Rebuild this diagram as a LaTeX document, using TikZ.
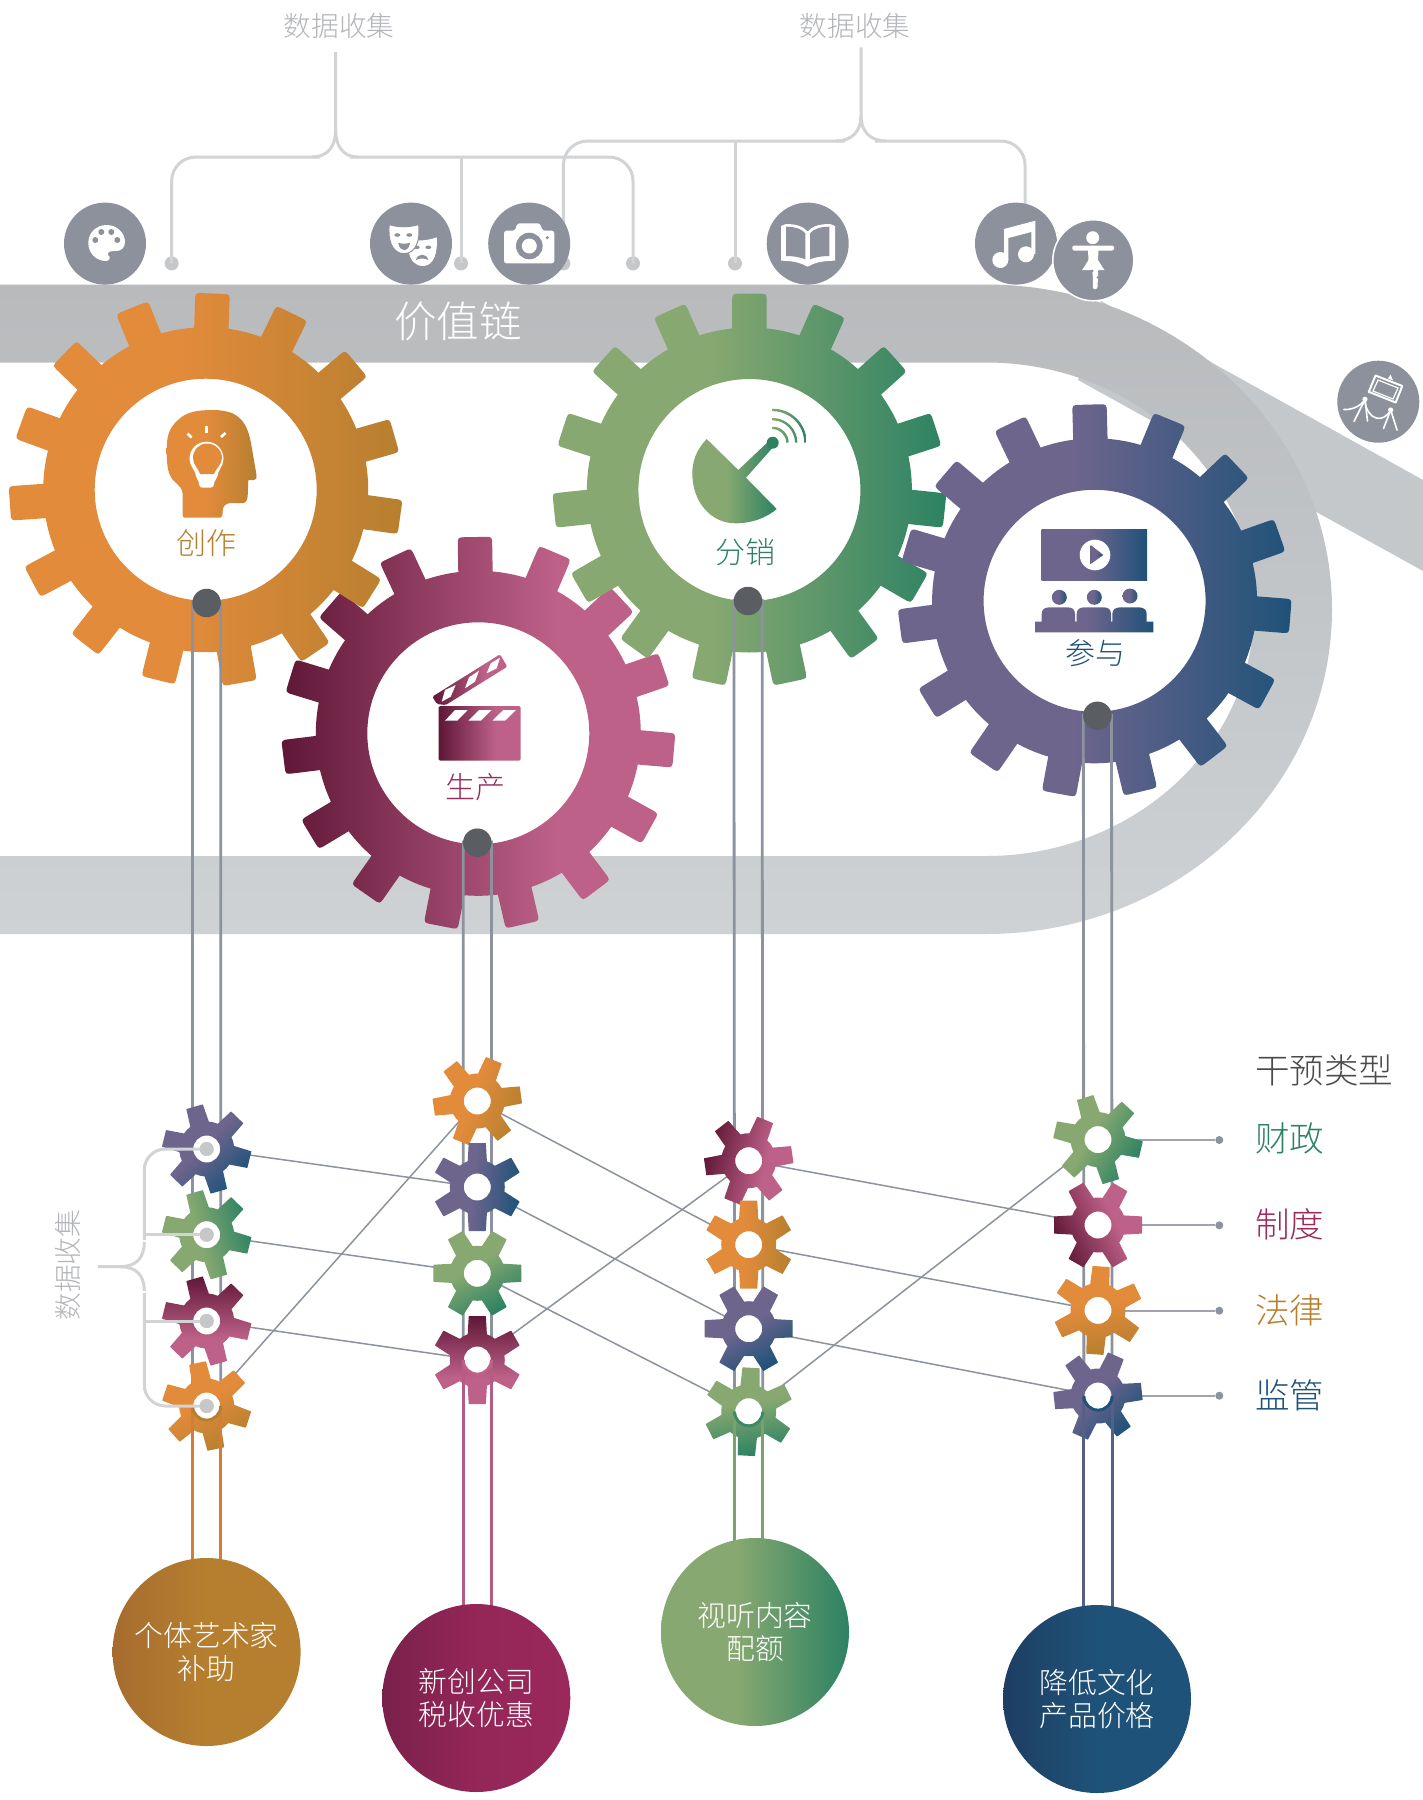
\documentclass[tikz,border=0pt]{standalone}
\usepackage{fontspec}
\setmainfont{Noto Sans CJK SC Light}
\usetikzlibrary{calc}
\definecolor{oA}{HTML}{E18B3B}\definecolor{oB}{HTML}{B67F2F}
\definecolor{mA}{HTML}{5F1736}\definecolor{mB}{HTML}{BE6188}
\definecolor{gA}{HTML}{87A870}\definecolor{gB}{HTML}{2C8263}
\definecolor{pA}{HTML}{6E658D}\definecolor{pB}{HTML}{1F5279}
\definecolor{iconc}{HTML}{8C919C}
\definecolor{railc}{HTML}{8D939E}
\definecolor{brkc}{HTML}{D1D3D5}
\definecolor{dotc}{HTML}{C6C7C9}
\definecolor{hubc}{HTML}{5A5E62}
\definecolor{txtg}{HTML}{B3B5B9}
\pgfdeclarehorizontalshading{orangeG}{100bp}{color(0bp)=(oA); color(25bp)=(oA); color(47bp)=(oA); color(75bp)=(oB); color(100bp)=(oB)}
\pgfdeclarehorizontalshading{magentaG}{100bp}{color(0bp)=(mA); color(25bp)=(mA); color(60bp)=(mB); color(75bp)=(mB); color(100bp)=(mB)}
\pgfdeclarehorizontalshading{greenG}{100bp}{color(0bp)=(gA); color(25bp)=(gA); color(45bp)=(gA); color(75bp)=(gB); color(100bp)=(gB)}
\pgfdeclarehorizontalshading{purpleG}{100bp}{color(0bp)=(pA); color(25bp)=(pA); color(47bp)=(pA); color(75bp)=(pB); color(100bp)=(pB)}
\newcommand{\lpt}[4]{\pgfmathsetmacro\tmpx{\gcx+(#1)*cos(#3)-(#2)*sin(#3)}\pgfmathsetmacro\tmpy{\gcy-((#1)*sin(#3)+(#2)*cos(#3))}\edef#4{(\tmpx,\tmpy)}}
% cx cy rb rt wb wt c n base
\newcommand{\mkgear}[9]{%
  \gdef\gp{}%
  \def\gcx{#1}\def\gcy{#2}%
  \foreach \k in {1,...,#8}{%
    \pgfmathsetmacro\ga{#9+(\k-1)*360/#8}%
    \pgfmathsetmacro\gd{asin(#5/#3)}%
    \pgfmathsetmacro\gro{#3*cos(\gd)}%
    \pgfmathsetmacro\gae{-(\ga+\gd)}%
    \pgfmathsetmacro\gan{-(\ga+360/#8-\gd)}%
    \lpt{\gro}{-#5}{\ga}{\qa}%
    \lpt{#4-#7}{-#6}{\ga}{\qb}%
    \lpt{#4}{-#6}{\ga}{\qc}%
    \lpt{#4}{-#6+#7}{\ga}{\qd}%
    \lpt{#4}{#6-#7}{\ga}{\qe}%
    \lpt{#4}{#6}{\ga}{\qf}%
    \lpt{#4-#7}{#6}{\ga}{\qg}%
    \lpt{\gro}{#5}{\ga}{\qh}%
    \xdef\gp{\gp \ifnum\k=1 \qa\fi -- \qb .. controls \qc .. \qd -- \qe .. controls \qf .. \qg -- \qh arc[start angle=\gae,end angle=\gan,radius=#3]}%
  }%
  \xdef\gp{\gp -- cycle}%
}
\newcommand{\biggear}[5]{% name cx cy base shade
  \coordinate (#1) at (#2,#3);
  \fill[white] (#1) circle[radius=111];
  \mkgear{#2}{#3}{162.5}{196.3}{17.2}{17.2}{8}{15}{#4}
  \shade[shading=#5,even odd rule] \gp (#2,#3) circle[radius=111];
}
\newcommand{\smallgear}[6]{% name cx cy base shade angle
  \coordinate (#1) at (#2,#3);
  \fill[white] (#1) circle[radius=14];
  \mkgear{#2}{#3}{27.5}{44}{9.6}{8.6}{0.5}{6}{#4}
  \shade[shading=#5,shading angle=#6,even odd rule] \gp (#2,#3) circle[radius=13.5];
}
\newcommand{\grayrail}[2]{\draw[rail] ($(#2)+(-14.1,0)$) -- ($(#1)+(-14.1,-2)$) arc[start angle=180,end angle=0,radius=14.1] -- ($(#2)+(14.1,0)$);}
\newcommand{\colrail}[4]{% gear length straightcolor archcolor
  \draw[rail,line width=3pt,draw=#3] ($(#1)+(-14.1,0)$) -- ++(0,#2);
  \draw[rail,line width=3pt,draw=#3] ($(#1)+(14.1,0)$) -- ++(0,#2);
  \draw[rail,line width=3pt,draw=#4] ($(#1)+(-14.1,3)$) -- ($(#1)+(-14.1,0)$) arc[start angle=180,end angle=0,radius=14.1] -- ($(#1)+(14.1,3)$);
}
\tikzset{
  iconcirc/.style={circle,fill=iconc,minimum size=82pt,inner sep=0pt},
  rail/.style={draw=railc,line width=2.8pt},
  conn/.style={draw=railc,line width=1.5pt},
  brk/.style={draw=brkc,line width=3pt},
  dotn/.style={circle,fill=dotc,minimum size=14pt,inner sep=0pt},
  smalldot/.style={circle,fill=railc,minimum size=8pt,inner sep=0pt},
  hubn/.style={circle,fill=hubc,minimum size=28.5pt,inner sep=0pt},
  bigcirc/.style={circle,minimum size=188pt,inner sep=0pt,align=center,text=white,font=\fontsize{28.8}{33.6}\selectfont},
  lab/.style={inner sep=0pt,font=\fontsize{30}{31}\selectfont},
  leg/.style={inner sep=0pt,anchor=west,font=\fontsize{34.5}{36}\selectfont},
  grayt/.style={inner sep=0pt,text=txtg,font=\fontsize{27.7}{29}\selectfont},
}
\begin{document}
\begin{tikzpicture}[x=1pt,y=-1pt]
\useasboundingbox (0,0) rectangle (1423,1800);
\fill[white] (0,0) rectangle (1423,1800);
% branch and value chain band
\fill[color={rgb,255:red,197;green,200;blue,202}] (1101,301) -- (1423,480) -- (1423,571) -- (1078,380) -- cycle;
\shade[top color={rgb,255:red,184;green,186;blue,188},bottom color={rgb,255:red,206;green,210;blue,213}]
  (0,284.5) -- (986,284.5) arc[x radius=346,y radius=324.75,start angle=-90,end angle=90]
  -- (0,934) -- (0,856) -- (986,856) arc[x radius=268,y radius=246.75,start angle=90,end angle=-90]
  -- (0,362.5) -- cycle;
\node[inner sep=0pt,text=white,font=\fontsize{42.5}{44}\selectfont] (chain) at (458,321) {价值链};
% top brackets
\node[dotn] (d1) at (171.7,263.4) {};
\node[dotn] (d2) at (461,263.4) {};
\node[dotn] (d3) at (633,263.4) {};
\node[dotn] (d4) at (563.4,263.4) {};
\node[dotn] (d5) at (735,263.4) {};
\coordinate (b1j) at (335.6,157);
\coordinate (b1t) at (335.6,52);
\coordinate (b2j) at (861,141);
\coordinate (b2t) at (861,47.4);
\coordinate (mus) at (1025,210);
\draw[brk,rounded corners=24] (d1.center) |- (320,157);
\draw[brk,rounded corners=24] (d3.center) |- (350,157);
\draw[brk] (b1t) -- (335.6,130) .. controls (335.6,146) and (328,157) .. (312,157);
\draw[brk] (335.6,130) .. controls (335.6,146) and (343,157) .. (358,157);
\draw[brk] (d2.center) -- (d2 |- b1j);
\draw[brk,rounded corners=24] (d4.center) |- (845,141);
\draw[brk,rounded corners=24] (mus) |- (875,141);
\draw[brk] (b2t) -- (861,116) .. controls (861,131) and (852,141) .. (836,141);
\draw[brk] (861,116) .. controls (861,131) and (870,141) .. (886,141);
\draw[brk] (d5.center) -- (d5 |- b2j);
\node[grayt] (t1) at (339,26) {数据收集};
\node[grayt] (t2) at (855,26) {数据收集};
% top icon circles
\node[iconcirc] (palette) at (105,243.6) {};
\node[iconcirc] (masks) at (411,243.6) {};
\node[iconcirc] (camera) at (529.2,243.6) {};
\node[iconcirc] (book) at (807.7,243.6) {};
\node[iconcirc] (music) at (1016,243.6) {};
\node[circle,fill=iconc,draw=white,line width=1.5pt,minimum size=81pt,inner sep=0pt] (dancer) at (1093.3,260.3) {};
\node[iconcirc] (paint) at (1378.3,401.7) {};
% palette
\fill[white] (106.7,225) .. controls (117,225) and (125,233) .. (125,242) .. controls (125,248) and (121,251) .. (116,251) .. controls (112,251) and (107,251) .. (108,255) .. controls (111,257) and (110,261) .. (106,261) .. controls (96,261) and (88.3,253) .. (88.3,243) .. controls (88.3,233) and (96,225) .. (106.7,225) -- cycle;
\foreach \p in {(101.3,232),(111.3,232),(95.3,240),(117.3,240)} \fill[iconc] \p circle[radius=3];
% masks
\fill[white] (418,240.5) .. controls (425,240.5) and (431,239.5) .. (436.7,237.3) .. controls (438,252) and (434,266) .. (423,266) .. controls (415,266) and (410,260) .. (409,252) -- cycle;
\fill[iconc] (416.7,247.3) ellipse[x radius=3,y radius=1.8];
\fill[iconc] (428.3,247.3) ellipse[x radius=3,y radius=1.8];
\fill[iconc] (416,260) .. controls (417,253) and (427,253) .. (428.3,260) .. controls (424,258) and (420,258) .. (416,260) -- cycle;
\filldraw[fill=white,draw=iconc,line width=1pt] (389.3,224.6) .. controls (399,227.5) and (408,227.5) .. (418.6,224.6) .. controls (420.5,240) and (416,253.6) .. (404,253.6) .. controls (392,253.6) and (387.5,240) .. (389.3,224.6) -- cycle;
\fill[iconc] (397.3,235) ellipse[x radius=3,y radius=1.8];
\fill[iconc] (409.3,235) ellipse[x radius=3,y radius=1.8];
\fill[iconc] (398.3,242.7) .. controls (401,244) and (407,244) .. (410,242.7) .. controls (409.5,248) and (406.5,250) .. (404,250) .. controls (401.5,250) and (399,248) .. (398.3,242.7) -- cycle;
% camera
\fill[white,rounded corners=2.5] (504,230.7) -- (515,230.7) -- (517.3,223.3) -- (540,223.3) -- (542.5,230.7) -- (554.3,230.7) -- (554.3,263.3) -- (504,263.3) -- cycle;
\fill[iconc] (529.3,246) circle[radius=13.3];
\fill[white] (529.3,246) circle[radius=7.5];
\fill[iconc] (547.3,237.7) circle[radius=1.7];
% book
\fill[white] (781,226) -- (786,224) .. controls (795,224) and (803,226) .. (807.7,231.5) .. controls (812,226) and (820,224) .. (830,224) -- (835,226) -- (835,260.7) .. controls (826,260.7) and (818,262) .. (813,264) -- (807.7,266.7) -- (802,264) .. controls (797,262) and (790,260.7) .. (781,260.7) -- cycle;
\fill[iconc] (786,226.7) .. controls (795,226.7) and (802,229) .. (805.3,233.3) -- (805.3,259.3) .. controls (800,257) and (793,256) .. (786,256) -- cycle;
\fill[iconc] (829.4,226.7) .. controls (820.4,226.7) and (813.4,229) .. (810.1,233.3) -- (810.1,259.3) .. controls (815.4,257) and (822.4,256) .. (829.4,256) -- cycle;
% music
\fill[white] (1004,260) -- (1004,229) -- (1035.3,220.7) -- (1035.3,254) -- (1031.3,254) -- (1031.3,232) -- (1008.3,238) -- (1008.3,260) -- cycle;
\fill[white] (1000.3,260) circle[radius=8];
\fill[white] (1026,254.3) circle[radius=8];
% dancer
\fill[white] (1092.7,237.7) circle[radius=6.5];
\fill[white,rounded corners=2] (1072.3,245.5) rectangle (1114,250.5);
\fill[white] (1088,250) -- (1098.5,250) -- (1098,260) -- (1103,268) -- (1104.5,270) -- (1098,270) -- (1098,276) -- (1097.5,287) .. controls (1097,290) and (1093,290) .. (1092.8,287) -- (1092.8,276) -- (1092,270) -- (1082,270) -- (1083.5,268) -- (1088.5,260) -- cycle;
\fill[iconc] (1092,271) circle[radius=1.6];
\fill[iconc] (1097.5,277.5) circle[radius=1.2];
% painting
\draw[white,line width=2pt,line join=round] (1375.5,375.5) -- (1402.3,386) -- (1395.7,402.5) -- (1368.8,391.8) -- cycle;
\draw[white,line width=1.2pt] (1378,380) -- (1398,388) -- (1393,399) -- (1373,391) -- cycle;
\fill[white] (1388,378.5) -- (1390.5,374.5) -- (1393,380.5) -- cycle;
\draw[white,line width=1.6pt,line cap=round] (1344,409.5) .. controls (1352,410) and (1361,406) .. (1365,399.5);
\draw[white,line width=1.6pt,line cap=round] (1365,399.5) -- (1354,421.5);
\draw[white,line width=1.6pt,line cap=round] (1365,399.5) -- (1367.5,421);
\draw[white,line width=1.6pt,line cap=round] (1365,402) .. controls (1368,420) and (1383,424) .. (1390.7,410);
\draw[white,line width=1.6pt,line cap=round] (1390.7,410) -- (1383.5,428.5);
\draw[white,line width=1.6pt,line cap=round] (1390.7,410) -- (1397,430);
\fill[white] (1365,399.3) circle[radius=2.6];
\fill[white] (1390.7,410) circle[radius=2.6];
% big gears
\biggear{gm}{478.3}{733.3}{91}{magentaG}
\biggear{go}{205.7}{489.7}{88}{orangeG}
\biggear{gg}{749.4}{490}{90}{greenG}
\biggear{gq}{1094.6}{600.8}{91.5}{purpleG}
% head icon
\shade[shading=orangeG] (213.3,410) .. controls (197,410) and (186,412) .. (178,420) .. controls (169,428) and (166.7,436) .. (166.7,450) .. controls (166.7,466) and (168,474) .. (173,480) .. controls (180,487) and (182.7,488) .. (182.7,496) -- (182.7,515) .. controls (182.7,516.7) and (183.5,517.7) .. (185,517.7) -- (220,517.7) .. controls (222,517.7) and (222.7,516) .. (222.7,511) .. controls (222.7,506) and (226,503) .. (231,503) -- (243,503) .. controls (246,503) and (247.3,500) .. (247.7,496) -- (248.3,480) -- (254,480) .. controls (256.5,480) and (257,478) .. (256.5,475) -- (251,443) .. controls (248,428) and (244,419) .. (232,413) .. controls (226,411) and (220,410) .. (213.3,410) -- cycle;
\fill[white] (206.7,441.7) .. controls (197,441.7) and (189.5,449) .. (189.5,459) .. controls (189.5,466) and (196,471) .. (196,476) .. controls (196,479) and (199,480) .. (199,484) .. controls (199,487) and (201,487.5) .. (202,487.5) -- (211,487.5) .. controls (213,487.5) and (214,486) .. (214,484) .. controls (214,480) and (217.5,479) .. (217.5,476) .. controls (217.5,471) and (223.5,466) .. (223.5,459) .. controls (223.5,449) and (216,441.7) .. (206.7,441.7) -- cycle;
\fill[color=oA] (207,443.5) .. controls (199,443.5) and (193,450) .. (193,458) .. controls (193,465) and (199,469) .. (200,474) -- (214,474) .. controls (215,469) and (222,465) .. (222,458) .. controls (222,450) and (215,443.5) .. (207,443.5) -- cycle;
\draw[white,line width=2.6pt] (187.5,433.5) -- (191.5,437.5);
\draw[white,line width=2.6pt] (206.7,426) -- (206.7,433);
\draw[white,line width=2.6pt] (225.5,433) -- (221,437);
% clapper
\shade[shading=magentaG,rounded corners=1.5] (438.7,706) rectangle (520.7,760.7);
\fill[white] (455,710) -- (467.7,710) -- (457.3,720.7) -- (445,720.7) -- cycle;
\fill[white] (479,710) -- (491.7,710) -- (481,720.7) -- (468.3,720.7) -- cycle;
\fill[white] (503.3,710) -- (516,710) -- (505,720.7) -- (492.3,720.7) -- cycle;
\shade[shading=magentaG,rounded corners=1.5] (432.3,696.7) -- (500,654.3) -- (507.3,666.7) -- (445.7,705) -- (437,704) -- cycle;
\fill[white] (441.7,701.7) -- (445,690) -- (455.7,685) -- (450.7,696.7) -- cycle;
\fill[white] (465,688.3) -- (469,677.3) -- (479,670.7) -- (475,681.7) -- cycle;
\fill[white] (486.7,673.3) -- (490.7,663.3) -- (500,657.7) -- (496.7,668.3) -- cycle;
% satellite
\shade[shading=greenG] (706.7,439) .. controls (696,450) and (692.3,462) .. (692.3,473.3) .. controls (692.3,503) and (712,523.3) .. (735,523.3) .. controls (752,523.3) and (766,518) .. (776.7,509) -- (746,477.7) -- (775,445) -- (770,440) -- (738.3,470) -- cycle;
\fill[gB] (772.7,442.7) circle[radius=6];
\shade[left color=gA,right color=gB]
 (772.7,426.7) arc[start angle=-90,end angle=0,radius=16] -- (786.2,442.7) arc[start angle=0,end angle=-90,radius=13.5] -- cycle
 (772.7,418) arc[start angle=-90,end angle=0,radius=24.7] -- (795,442.7) arc[start angle=0,end angle=-90,radius=22.3] -- cycle
 (772.7,408.7) arc[start angle=-90,end angle=0,radius=34] -- (804.2,442.7) arc[start angle=0,end angle=-90,radius=31.5] -- cycle;
% audience
\shade[shading=purpleG] (1041.7,529) rectangle (1147,580.7);
\fill[white] (1095,555) circle[radius=15.3];
\shade[shading=purpleG] (1090.7,545) -- (1103.3,555) -- (1090.7,564) -- cycle;
\shade[shading=purpleG] (1059.3,597.3) circle[radius=7.5];
\shade[shading=purpleG] (1094.3,597.3) circle[radius=7.5];
\shade[shading=purpleG] (1130,596) circle[radius=7.5];
\shade[shading=purpleG] (1035,621.7) -- (1041.7,621.7) -- (1041.7,614) .. controls (1041.7,609) and (1045,607.3) .. (1050,607.3) -- (1067,607.3) .. controls (1072,607.3) and (1075,609) .. (1075,614) -- (1075,621.7) -- (1076.7,621.7) -- (1076.7,614) .. controls (1076.7,609) and (1080,607.3) .. (1085,607.3) -- (1103,607.3) .. controls (1108,607.3) and (1111,609) .. (1111,614) -- (1111,621.7) -- (1112.3,621.7) -- (1112.3,614) .. controls (1112.3,609) and (1116,607.3) .. (1121,607.3) -- (1138,607.3) .. controls (1143,607.3) and (1146.7,609) .. (1146.7,614) -- (1146.7,621.7) -- (1153.3,621.7) -- (1153.3,632.3) -- (1035,632.3) -- cycle;
% gear labels
\node[lab,text=oB] (l1) at (206.6,543) {创作};
\node[lab,text={rgb,255:red,154;green,42;blue,92}] (l2) at (475,786.7) {生产};
\node[lab,text=gB] (l3) at (745,552) {分销};
\node[lab,text=pB] (l4) at (1095,653) {参与};
% coordinates of small gears for connectors
\coordinate (s1) at (206.7,1149);\coordinate (s2) at (206.7,1234.7);\coordinate (s3) at (206.7,1321);\coordinate (s4) at (206.7,1406);
\coordinate (c21) at (477.3,1101);\coordinate (c22) at (477.3,1187);\coordinate (c23) at (477.3,1273.3);\coordinate (c24) at (477.3,1360);
\coordinate (c31) at (748.7,1160.7);\coordinate (c32) at (748.7,1244.7);\coordinate (c33) at (748.7,1328.7);\coordinate (c34) at (748.7,1411.7);
\coordinate (c41) at (1098,1139.6);\coordinate (c42) at (1098,1225);\coordinate (c43) at (1098,1310.4);\coordinate (c44) at (1098,1396);
% hubs and rails
\coordinate (h1) at (206.6,603);\coordinate (h2) at (477.3,842.7);\coordinate (h3) at (748,601);\coordinate (h4) at (1097.4,715.8);
\grayrail{h1}{s4}\grayrail{h2}{c24}\grayrail{h3}{c34}\grayrail{h4}{c44}
\node[hubn] at (h1) {};\node[hubn] at (h2) {};\node[hubn] at (h3) {};\node[hubn] at (h4) {};
% connectors
\draw[conn] (s1) -- (c22);\draw[conn] (s2) -- (c23);\draw[conn] (s3) -- (c24);\draw[conn] (s4) -- (c21);
\draw[conn] (c21) -- (c32);\draw[conn] (c22) -- (c33);\draw[conn] (c23) -- (c34);\draw[conn] (c24) -- (c31);
\draw[conn] (c31) -- (c42);\draw[conn] (c32) -- (c43);\draw[conn] (c33) -- (c44);\draw[conn] (c34) -- (c41);
% legend dots and lines
\node[smalldot] (r1) at (1219.3,1140) {};\node[smalldot] (r2) at (1219.3,1225.3) {};\node[smalldot] (r3) at (1219.3,1310.7) {};\node[smalldot] (r4) at (1219.3,1395.7) {};
\draw[conn,line width=2pt,draw=railc!85] (c41 |- r1) -- (r1);\draw[conn,line width=2pt,draw=railc!85] (c42 |- r2) -- (r2);\draw[conn,line width=2pt,draw=railc!85] (c43 |- r3) -- (r3);\draw[conn,line width=2pt,draw=railc!85] (c44 |- r4) -- (r4);
% small gears
\smallgear{s1}{206.7}{1149}{-14}{purpleG}{-45}
\smallgear{s2}{206.7}{1234.7}{-14}{greenG}{15}
\smallgear{s3}{206.7}{1321}{-14}{magentaG}{-90}
\smallgear{s4}{206.7}{1406}{-18}{orangeG}{-60}
\smallgear{c21}{477.3}{1101}{8}{orangeG}{-20}
\smallgear{c22}{477.3}{1187}{30}{purpleG}{-5}
\smallgear{c23}{477.3}{1273.3}{0}{greenG}{-60}
\smallgear{c24}{477.3}{1360}{30}{magentaG}{-90}
\smallgear{c31}{748.7}{1160.7}{8}{magentaG}{-15}
\smallgear{c32}{748.7}{1244.7}{30}{orangeG}{0}
\smallgear{c33}{748.7}{1328.7}{0}{purpleG}{-60}
\smallgear{c34}{748.7}{1411.7}{27}{greenG}{-80}
\smallgear{c41}{1098}{1139.6}{-13}{greenG}{-30}
\smallgear{c42}{1098}{1225}{0}{magentaG}{25}
\smallgear{c43}{1098}{1310.4}{26}{orangeG}{-80}
\smallgear{c44}{1098}{1396}{6}{purpleG}{-45}
% coloured rails
\colrail{s4}{250}{oA!92!black}{oB}
\colrail{c24}{300}{mB!95!black}{mB}
\colrail{c34}{240}{gA!85!gB}{gB!80!gA}
\colrail{c44}{300}{pA!70!pB}{pB}
% left bracket
\node[dotn] (e1) at (s1) {};\node[dotn] (e2) at (s2) {};\node[dotn] (e3) at (s3) {};\node[dotn] (e4) at (s4) {};
\coordinate (lb) at (144.3,1266.7);
\draw[brk,rounded corners=21] (e1.center) -| (144.3,1240);
\draw[brk,rounded corners=21] (e4.center) -| (144.3,1293);
\draw[brk] (98,1266.7) -- (120,1266.7) .. controls (136,1266.7) and (144.3,1258) .. (144.3,1242);
\draw[brk] (120,1266.7) .. controls (136,1266.7) and (144.3,1275) .. (144.3,1291);
\draw[brk] (e2.center) -- (e2 -| lb);
\draw[brk] (e3.center) -- (e3 -| lb);
\node[dotn] at (s1) {};\node[dotn] at (s2) {};\node[dotn] at (s3) {};\node[dotn] at (s4) {};
\node[grayt,rotate=90] (t3) at (68,1265) {数据收集};
% legend text
\node[leg,text={rgb,255:red,74;green,74;blue,74}] (lt) at (1255,1070) {干预类型};
\node[leg,text=gB] (lt1) at (1255,1138) {财政};
\node[leg,text={rgb,255:red,154;green,42;blue,92}] (lt2) at (1255,1224) {制度};
\node[leg,text=oB] (lt3) at (1255,1310) {法律};
\node[leg,text=pB] (lt4) at (1255,1395.7) {监管};
% bottom circles
\node[bigcirc,left color={rgb,255:red,166;green,108;blue,47},right color=oB,middle color=oB] (b1) at (206.6,1652) {个体艺术家\\补助};
\node[bigcirc,left color={rgb,255:red,122;green,33;blue,75},right color={rgb,255:red,154;green,40;blue,91},middle color={rgb,255:red,148;green,38;blue,88}] (b2) at (476.3,1698) {新创公司\\税收优惠};
\node[bigcirc,shading=greenG] (b3) at (755,1632) {视听内容\\配额};
\node[bigcirc,left color={rgb,255:red,30;green,62;blue,98},right color=pB,middle color=pB] (b4) at (1097,1699) {降低文化\\产品价格};
\end{tikzpicture}
\end{document}
